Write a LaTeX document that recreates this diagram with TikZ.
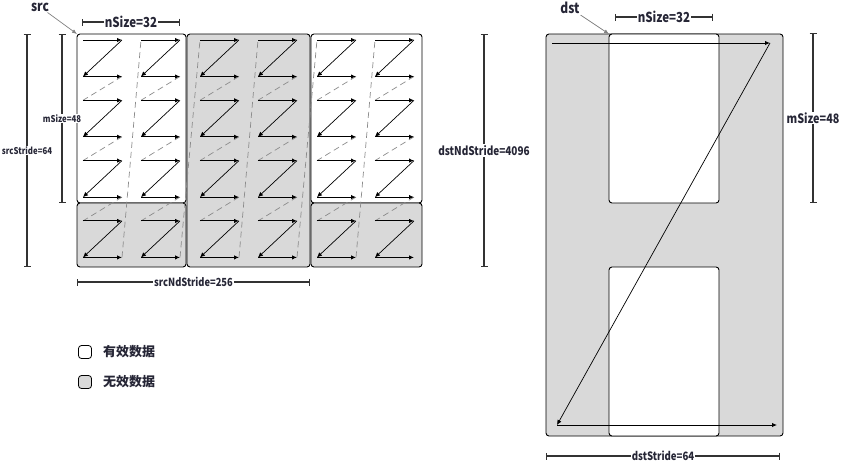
\documentclass[tikz,border=0pt]{standalone}
\usepackage{graphicx}
\usepackage{fontspec}
\setmainfont{Noto Sans CJK SC}
\usetikzlibrary{arrows.meta}
\definecolor{txt}{HTML}{262636}
\definecolor{shade}{HTML}{D9D9D9}
\definecolor{dimc}{HTML}{333333}
\definecolor{dashc}{HTML}{8C8C8C}
\newcommand{\fsz}[1]{\fontsize{#1}{#1}\selectfont\bfseries}
\newcommand{\tallt}[1]{\scalebox{1}[1.2]{#1}}
\tikzset{
 blk/.style={draw=black, line width=0.9pt, rounded corners=3pt},
 zarrow/.style={draw=black, line width=0.9pt, -{Latex[length=5pt,width=4.5pt]}},
 zdiag/.style={draw=black, line width=0.7pt, -{Latex[length=5pt,width=4.5pt]}},
 zlink/.style={draw=dashc, line width=0.7pt, dash pattern=on 6pt off 4pt},
 dimline/.style={draw=dimc, line width=2pt, {Bar[width=7pt,line width=1.4pt]}-{Bar[width=7pt,line width=1.4pt]}},
 lbl/.style={text=txt, inner sep=1pt, fill=white},
 ptr/.style={draw=gray, line width=0.7pt, -{Latex[length=5pt,width=4pt]}},
 legbox/.style={draw=black, line width=0.8pt, rounded corners=3pt, minimum size=13pt, inner sep=0pt},
}
\begin{document}
\begin{tikzpicture}[x=1pt,y=-1pt]
\useasboundingbox (0,0) rectangle (846,461);

% ---- src blocks ----
\draw[blk, fill=white] (77,34) rectangle (186,203);
\draw[blk, fill=shade] (77,203) rectangle (186,267);
\draw[blk, fill=shade] (187,34) rectangle (310,267);
\draw[blk, fill=white] (311,34) rectangle (422,203);
\draw[blk, fill=shade] (311,203) rectangle (422,267);

% ---- Z coordinates ----
\foreach \c/\xa in {0/83,1/141,2/200,3/258,4/317,5/375} {
  \foreach \r in {0,1,2,3} {
    \pgfmathsetmacro\ya{40+60.3*\r}
    \coordinate (z\c\r-tl) at (\xa,\ya);
    \coordinate (z\c\r-tr) at (\xa+39,\ya);
    \coordinate (z\c\r-bl) at (\xa,\ya+36.5);
    \coordinate (z\c\r-br) at (\xa+39,\ya+36.5);
  }
}
% dashed links
\foreach \c in {0,...,5} {
  \foreach \r/\n in {0/1,1/2,2/3} {
    \draw[zlink] (z\c\r-br) -- (z\c\n-tl);
  }
}
\foreach \c/\n in {0/1,1/2,2/3,3/4,4/5} {
  \draw[zlink] (z\c3-br) -- (z\n0-tl);
}
% Z arrows
\foreach \c in {0,...,5} {
  \foreach \r in {0,1,2,3} {
    \draw[zarrow] (z\c\r-tl) -- (z\c\r-tr);
    \draw[zdiag] (z\c\r-tr) -- (z\c\r-bl);
    \draw[zarrow] (z\c\r-bl) -- (z\c\r-br);
  }
}

% ---- src labels ----
\node[lbl, fill=none, font=\fsz{12}] (src) at (40,7) {\tallt{src}};
\coordinate (srcc) at (77,34);
\draw[ptr] (src) -- (srcc);

\coordinate (ns1a) at (82,22); \coordinate (ns1b) at (180,22);
\draw[dimline] (ns1a) -- (ns1b) node[midway, lbl, font=\fsz{11.5}] (ns1) {\tallt{nSize=32}};

\coordinate (ms1a) at (62,34); \coordinate (ms1b) at (62,203);
\draw[dimline] (ms1a) -- (ms1b) node[midway, lbl, font=\fsz{7.8}] (ms1) {\tallt{mSize=48}};

\coordinate (ss1a) at (27,34); \coordinate (ss1b) at (27,267);
\draw[dimline] (ss1a) -- (ss1b) node[midway, lbl, font=\fsz{7.8}] (ss1) {\tallt{srcStride=64}};

\coordinate (nd1a) at (77,282); \coordinate (nd1b) at (310,282);
\draw[dimline] (nd1a) -- (nd1b) node[midway, lbl, font=\fsz{9.3}] (nd1) {\tallt{srcNdStride=256}};

% ---- legend ----
\node[legbox, fill=white] (leg1) at (85,352) {};
\node[text=txt, anchor=west, font=\fsz{13}, inner sep=0pt] (leg1t) at (103,352) {有效数据};
\node[legbox, fill=shade] (leg2) at (85,382) {};
\node[text=txt, anchor=west, font=\fsz{13}, inner sep=0pt] (leg2t) at (103,382) {无效数据};

% ---- dst ----
\draw[blk, fill=shade] (546,34) rectangle (783,436);
\draw[blk, fill=white] (609,34) rectangle (719,203);
\draw[blk, fill=white] (609,267) rectangle (719,436);
\coordinate (d1) at (552,43);
\coordinate (d2) at (770,43);
\coordinate (d3) at (557,425);
\coordinate (d4) at (777,425);
\draw[zarrow] (d1) -- (d2);
\draw[zdiag] (d2) -- (d3);
\draw[zarrow] (d3) -- (d4);

\node[lbl, fill=none, font=\fsz{12}] (dst) at (570,8) {\tallt{dst}};
\coordinate (dstc) at (609,34);
\draw[ptr] (dst) -- (dstc);

\coordinate (ns2a) at (615,17); \coordinate (ns2b) at (713,17);
\draw[dimline] (ns2a) -- (ns2b) node[midway, lbl, font=\fsz{11.5}] (ns2) {\tallt{nSize=32}};

\coordinate (ms2a) at (813,33); \coordinate (ms2b) at (813,203);
\draw[dimline] (ms2a) -- (ms2b) node[midway, lbl, font=\fsz{10.8}] (ms2) {\tallt{mSize=48}};

\coordinate (dn2a) at (484,34); \coordinate (dn2b) at (484,267);
\draw[dimline] (dn2a) -- (dn2b) node[midway, lbl, font=\fsz{10}] (dn2) {\tallt{dstNdStride=4096}};

\coordinate (ds2a) at (546,456); \coordinate (ds2b) at (780,456);
\draw[dimline] (ds2a) -- (ds2b) node[midway, lbl, font=\fsz{9.6}] (ds2) {\tallt{dstStride=64}};
\end{tikzpicture}
\end{document}
